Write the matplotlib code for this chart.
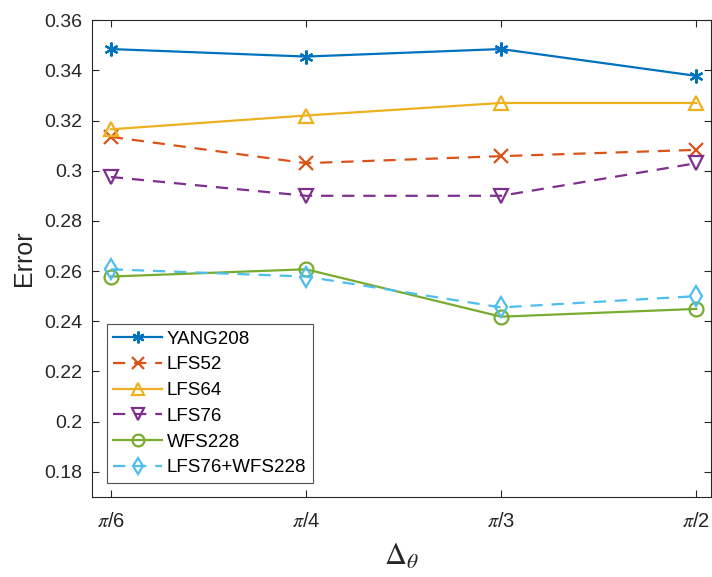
import matplotlib
matplotlib.use("Agg")
import matplotlib.pyplot as plt

plt.rcParams['font.family'] = ['Liberation Sans', 'DejaVu Sans']
plt.rcParams['mathtext.fontset'] = 'stix'

x_labels = [r'$\pi$/6', r'$\pi$/4', r'$\pi$/3', r'$\pi$/2']
x_pos = [1, 2, 3, 4]

yang208 = [0.3485, 0.3455, 0.3485, 0.3378]
lfs52 = [0.3135, 0.3030, 0.3058, 0.3083]
lfs64 = [0.3165, 0.3220, 0.3270, 0.3270]
lfs76 = [0.2975, 0.2900, 0.2900, 0.3030]
wfs228 = [0.2578, 0.2607, 0.2418, 0.2449]
lfs76_wfs228 = [0.2607, 0.2578, 0.2455, 0.2500]

series = [
    ("YANG208", yang208, '#0072BD', '-', (6, 2, 0)),
    ("LFS52", lfs52, '#D95319', '--', 'x'),
    ("LFS64", lfs64, '#EDB120', '-', '^'),
    ("LFS76", lfs76, '#7E2F8E', '--', 'v'),
    ("WFS228", wfs228, '#77AC30', '-', 'o'),
    ("LFS76+WFS228", lfs76_wfs228, '#4DBEEE', '--', 'd'),
]

fig = plt.figure(figsize=(7.12, 5.77), dpi=100)
ax = fig.add_axes([0.129, 0.139, 0.870, 0.826])

for name, vals, color, ls, mk in series:
    ax.plot(x_pos, vals, linestyle=ls, color=color, linewidth=1.6,
            marker=mk, markersize=10, markerfacecolor='none',
            markeredgecolor=color, markeredgewidth=1.6, label=name,
            dashes=(5.5, 4) if ls == '--' else (None, None))

ax.set_xlim(0.9026, 4.077)
ax.set_ylim(0.17, 0.36)
ax.set_xticks(x_pos)
ax.set_xticklabels(x_labels)
ax.set_yticks([0.18, 0.2, 0.22, 0.24, 0.26, 0.28, 0.3, 0.32, 0.34, 0.36])
ax.set_yticklabels(['0.18', '0.2', '0.22', '0.24', '0.26', '0.28', '0.3', '0.32', '0.34', '0.36'])
ax.tick_params(direction='in', top=True, right=True, length=5,
               width=0.8, colors='#262626')
ax.tick_params(axis='y', labelsize=14, pad=7)
ax.tick_params(axis='x', labelsize=14.5, pad=11)
for s in ax.spines.values():
    s.set_color('#262626')
    s.set_linewidth(0.8)

ax.set_ylabel('Error', fontsize=18, color='#262626', labelpad=6)
ax.set_xlabel(r'$\Delta_\theta$', fontsize=22, color='#262626', labelpad=8)

leg = ax.legend(loc='lower left', bbox_to_anchor=(0.024, 0.029), borderaxespad=0,
                fontsize=13.5, handlelength=2.6, handletextpad=0.25,
                borderpad=0.35, labelspacing=0.46, frameon=True, fancybox=False,
                markerscale=0.85)
leg.get_frame().set_edgecolor('#262626')
leg.get_frame().set_linewidth(0.8)

fig.savefig('out.png', dpi=100)
